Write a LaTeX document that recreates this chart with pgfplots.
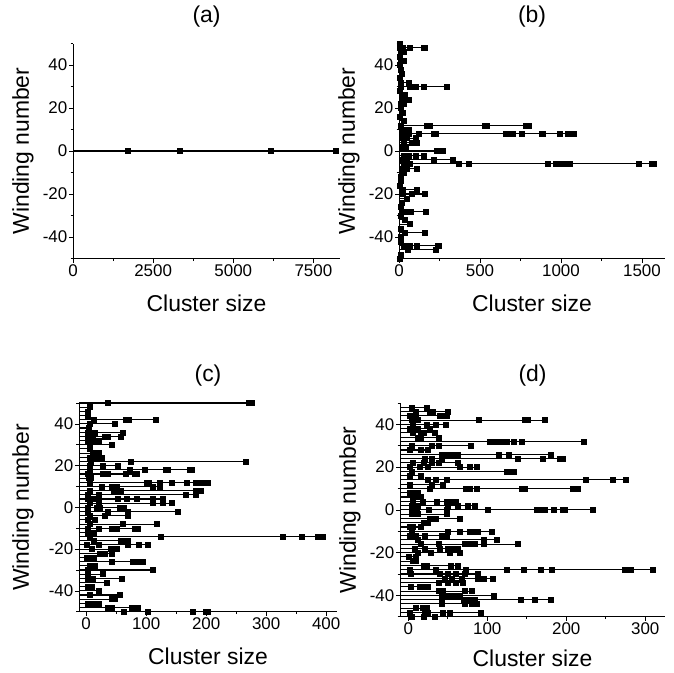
\documentclass[border=0pt]{standalone}
\usepackage{fontspec}
\setmainfont{Liberation Sans}
\usepackage{pgfplots}
\pgfplotsset{compat=1.18}

\pgfplotsset{
  panel/.style={
    scale only axis,
    axis x line*=bottom, axis y line*=left,
    axis line style={line width=0.7bp},
    ymin=-50, ymax=50,
    ytick={-40,-20,0,20,40},
    yticklabels={-40,-20,0,20,40},
    minor ytick={-50,-30,-10,10,30,50},
    tick align=outside,
    major tick length=4bp, minor tick length=2.5bp,
    every tick/.style={black, line width=0.6bp},
    tick label style={font=\fontsize{17}{18}\selectfont, inner sep=1.5bp},
    title style={font=\fontsize{23}{24}\selectfont, at={(0.5,1)}, anchor=base, yshift=15.5bp},
    xlabel style={font=\fontsize{23}{24}\selectfont, at={(axis description cs:0.5,0)}, anchor=base, yshift=-53bp},
    ylabel style={font=\fontsize{23}{24}\selectfont, anchor=center},
    xlabel={Cluster size}, ylabel={Winding number},
    clip=false,
  },
  % line from the left axis edge to each cluster size, square at the size
  comb/.style={only marks, black, mark=square*, mark size=2.5bp,
    mark options={solid, fill=black},
    error bars/.cd, x dir=minus, x explicit, error mark=none,
    error bar style={line width=1.1bp, black}},
}

\begin{document}
\begin{tikzpicture}
\path[use as bounding box] (0,0) rectangle (674bp,-673bp);

% (a)
\begin{axis}[panel, at={(73bp,-258.5bp)}, anchor=south west,
  width=267bp, height=215bp, title={(a)},
  xmin=0, xmax=8330,
  xtick={0,2500,5000,7500}, xticklabels={0,2500,5000,7500}, minor x tick num=1,
  ylabel style={at={(axis description cs:-0.187,0.5)}}]
\addplot[comb] table[row sep=\\, x error expr=\thisrow{x}] {
x y\\
1691 0\\ 3340 0\\ 6155 0\\ 8204 0\\
};
\end{axis}

% (b)
\begin{axis}[panel, at={(399bp,-258.5bp)}, anchor=south west,
  width=266bp, height=215bp, title={(b)},
  xmin=0, xmax=1642,
  xtick={0,500,1000,1500}, xticklabels={0,500,1000,1500}, minor x tick num=1,
  ylabel style={at={(axis description cs:-0.188,0.5)}}]
\addplot[comb] table[row sep=\\, x error expr=\thisrow{x}] {
x y\\
5 50\\
5 48\\ 15 48\\ 25 48\\ 68 48\\ 154 48\\ 160 48\\
8 46\\ 27 46\\
5 44\\
10 42\\ 27 42\\
5 40\\
8 38\\
16 36\\
6 34\\
10 32\\ 62 32\\
10 30\\ 68 30\\ 103 30\\ 154 30\\ 294 30\\
5 28\\
15 26\\ 37 26\\
20 24\\ 62 24\\
10 22\\ 30 22\\
8 20\\
20 18\\
5 16\\
30 14\\
10 12\\ 170 12\\ 190 12\\ 530 12\\ 540 12\\ 780 12\\ 790 12\\ 800 12\\
15 10\\ 25 10\\ 40 10\\ 60 10\\
15 8\\ 40 8\\ 62 8\\ 119 8\\ 215 8\\ 228 8\\ 660 8\\ 680 8\\ 700 8\\ 760 8\\ 880 8\\ 890 8\\ 990 8\\ 1040 8\\ 1080 8\\
20 6\\ 50 6\\ 100 6\\
30 4\\ 80 4\\ 110 4\\
15 2\\ 40 2\\
230 0\\ 260 0\\ 270 0\\
30 -2\\ 60 -2\\ 100 -2\\ 150 -2\\
20 -4\\ 50 -4\\ 212 -4\\ 330 -4\\
30 -6\\ 68 -6\\ 370 -6\\ 430 -6\\ 920 -6\\ 965 -6\\ 1005 -6\\ 1020 -6\\ 1035 -6\\ 1055 -6\\ 1480 -6\\ 1560 -6\\ 1570 -6\\
20 -8\\ 50 -8\\ 110 -8\\
15 -10\\ 30 -10\\
10 -12\\
8 -14\\
5 -16\\
20 -18\\ 109 -18\\
20 -20\\ 78 -20\\ 160 -20\\
47 -22\\
15 -24\\
8 -26\\
20 -28\\ 62 -28\\ 70 -28\\ 167 -28\\
10 -30\\
35 -32\\
68 -34\\
10 -36\\
37 -38\\ 156 -38\\
8 -40\\
10 -42\\
30 -44\\ 68 -44\\ 109 -44\\ 237 -44\\ 245 -44\\
51 -46\\ 228 -46\\
10 -48\\
5 -50\\
};
\end{axis}

% (c)
\begin{axis}[panel, at={(79bp,-611.7bp)}, anchor=south west,
  width=258bp, height=208.7bp, title={(c)},
  xmin=-12, xmax=418,
  xtick={0,100,200,300,400}, xticklabels={0,100,200,300,400}, minor x tick num=1,
  ylabel style={at={(axis description cs:-0.217,0.5)}}]
\addplot[comb] table[row sep=\\, x error expr=\thisrow{x}+12] {
x y\\
36 50\\ 270 50\\ 275 50\\
6 48\\
3 46\\
2 44\\
13 42\\ 66 42\\ 70 42\\ 115 42\\
5 40\\ 48 40\\
4 38\\
2 36\\ 8 36\\ 14 36\\ 61 36\\
3 34\\ 10 34\\ 30 34\\ 36 34\\ 58 34\\
2 32\\ 10 32\\ 20 32\\
5 30\\ 43 30\\
6 28\\
10 26\\ 20 26\\
5 24\\ 15 24\\ 25 24\\
8 22\\ 74 22\\ 265 22\\
6 20\\ 28 20\\ 53 20\\
5 18\\ 72 18\\ 98 18\\ 133 18\\ 136 18\\ 172 18\\ 176 18\\
2 16\\ 28 16\\ 35 16\\ 65 16\\ 80 16\\ 84 16\\
4 14\\ 8 14\\
5 12\\ 100 12\\ 104 12\\ 123 12\\ 143 12\\ 167 12\\ 183 12\\ 190 12\\ 196 12\\ 202 12\\
25 10\\ 42 10\\ 48 10\\ 50 10\\ 110 10\\ 122 10\\
6 8\\ 45 8\\ 50 8\\ 58 8\\ 183 8\\ 190 8\\
3 6\\ 20 6\\ 166 6\\ 182 6\\
3 4\\ 13 4\\ 21 4\\ 53 4\\ 67 4\\ 84 4\\ 111 4\\ 127 4\\
5 2\\ 20 2\\ 111 2\\ 128 2\\ 142 2\\
3 0\\ 17 0\\ 23 0\\ 56 0\\ 62 0\\
3 -2\\ 36 -2\\ 69 -2\\ 152 -2\\
5 -4\\ 31 -4\\ 69 -4\\
3 -6\\ 14 -6\\
5 -8\\ 61 -8\\ 117 -8\\
3 -10\\ 20 -10\\ 42 -10\\ 50 -10\\ 80 -10\\ 86 -10\\
3 -12\\ 12 -12\\
5 -14\\ 124 -14\\ 328 -14\\ 359 -14\\ 386 -14\\ 390 -14\\ 394 -14\\
12 -16\\ 58 -16\\ 64 -16\\ 69 -16\\
1 -18\\ 20 -18\\ 69 -18\\ 87 -18\\ 102 -18\\
9 -20\\ 40 -20\\ 50 -20\\
22 -22\\ 30 -22\\ 42 -22\\
1 -24\\ 8 -24\\ 12 -24\\
42 -26\\ 78 -26\\ 86 -26\\ 94 -26\\
5 -28\\ 14 -28\\
3 -30\\ 110 -30\\
3 -32\\ 28 -32\\
3 -34\\ 10 -34\\ 59 -34\\
34 -36\\
3 -38\\ 9 -38\\
20 -40\\
6 -42\\ 56 -42\\
42 -44\\ 47 -44\\
3 -46\\ 13 -46\\ 20 -46\\
36 -48\\ 42 -48\\ 75 -48\\ 86 -48\\
63 -50\\ 102 -50\\ 178 -50\\ 199 -50\\ 203 -50\\
};
\end{axis}

% (d)
\begin{axis}[panel, at={(400bp,-616.7bp)}, anchor=south west,
  width=265bp, height=213.7bp, title={(d)},
  xmin=-10.5, xmax=325,
  xtick={0,100,200,300}, xticklabels={0,100,200,300}, minor x tick num=1,
  xlabel style={yshift=3bp},
  ylabel style={at={(axis description cs:-0.189,0.5)}}]
\addplot[comb] table[row sep=\\, x error expr=\thisrow{x}+10.5] {
x y\\
4 48\\ 23 48\\
10 46\\ 27 46\\ 31 46\\ 50 46\\
2 44\\ 10 44\\ 40 44\\ 44 44\\ 48 44\\
4 42\\ 12 42\\ 89 42\\ 147 42\\ 151 42\\ 173 42\\
5 40\\ 23 40\\ 35 40\\ 47 40\\
2 38\\ 8 38\\ 12 38\\ 27 38\\
5 36\\ 16 36\\ 20 36\\ 33 36\\
12 34\\ 16 34\\ 38 34\\
103 32\\ 109 32\\ 115 32\\ 120 32\\ 124 32\\ 133 32\\ 143 32\\ 222 32\\
4 30\\ 29 30\\ 38 30\\ 79 30\\
2 28\\ 16 28\\ 25 28\\
42 26\\ 50 26\\ 55 26\\ 63 26\\ 114 26\\ 127 26\\ 180 26\\
21 24\\ 30 24\\ 42 24\\ 139 24\\ 170 24\\ 192 24\\ 195 24\\
5 22\\ 20 22\\ 30 22\\ 38 22\\ 63 22\\
2 20\\ 15 20\\ 25 20\\ 65 20\\ 78 20\\ 86 20\\
4 18\\ 124 18\\ 128 18\\ 133 18\\
2 16\\ 16 16\\
25 14\\ 35 14\\ 48 14\\ 224 14\\ 259 14\\ 275 14\\
2 12\\ 29 12\\ 44 12\\
27 10\\ 73 10\\ 78 10\\ 86 10\\ 143 10\\ 147 10\\ 208 10\\ 215 10\\
2 8\\ 8 8\\ 12 8\\
5 6\\ 10 6\\ 16 6\\
5 4\\ 18 4\\ 36 4\\ 48 4\\ 55 4\\ 60 4\\
4 2\\ 12 2\\ 50 2\\ 62 2\\ 75 2\\ 84 2\\
4 0\\ 11 0\\ 26 0\\ 49 0\\ 101 0\\ 163 0\\ 167 0\\ 173 0\\ 184 0\\ 196 0\\ 198 0\\ 234 0\\
4 -2\\ 12 -2\\ 48 -2\\
27 -4\\ 35 -4\\ 65 -4\\
19 -6\\ 25 -6\\
2 -8\\ 6 -8\\ 16 -8\\
4 -10\\ 50 -10\\ 65 -10\\ 78 -10\\ 83 -10\\ 88 -10\\ 105 -10\\
2 -12\\ 10 -12\\ 21 -12\\ 42 -12\\ 48 -12\\
12 -14\\ 96 -14\\ 112 -14\\
16 -16\\ 38 -16\\ 71 -16\\ 78 -16\\ 84 -16\\ 96 -16\\ 138 -16\\
8 -18\\ 21 -18\\ 40 -18\\ 50 -18\\ 55 -18\\ 63 -18\\
12 -20\\ 28 -20\\ 52 -20\\ 65 -20\\
1 -22\\ 10 -22\\
5 -24\\ 10 -24\\
19 -26\\ 23 -26\\ 54 -26\\ 63 -26\\
2 -28\\ 35 -28\\ 73 -28\\ 124 -28\\ 146 -28\\ 168 -28\\ 182 -28\\ 274 -28\\ 281 -28\\ 310 -28\\
3 -30\\ 40 -30\\ 50 -30\\ 60 -30\\ 71 -30\\ 88 -30\\
46 -32\\ 55 -32\\ 67 -32\\ 88 -32\\ 95 -32\\ 107 -32\\
38 -34\\ 50 -34\\ 60 -34\\ 69 -34\\
3 -36\\ 14 -36\\ 20 -36\\ 25 -36\\
38 -38\\ 44 -38\\ 71 -38\\ 80 -38\\
42 -40\\ 50 -40\\ 58 -40\\ 65 -40\\ 108 -40\\
42 -42\\ 70 -42\\ 78 -42\\ 84 -42\\ 142 -42\\ 160 -42\\ 180 -42\\
42 -44\\ 72 -44\\ 80 -44\\ 86 -44\\
10 -46\\ 18 -46\\ 23 -46\\
2 -48\\ 21 -48\\ 25 -48\\ 44 -48\\ 52 -48\\ 92 -48\\
4 -50\\ 20 -50\\ 33 -50\\
};
\end{axis}
\end{tikzpicture}
\end{document}
